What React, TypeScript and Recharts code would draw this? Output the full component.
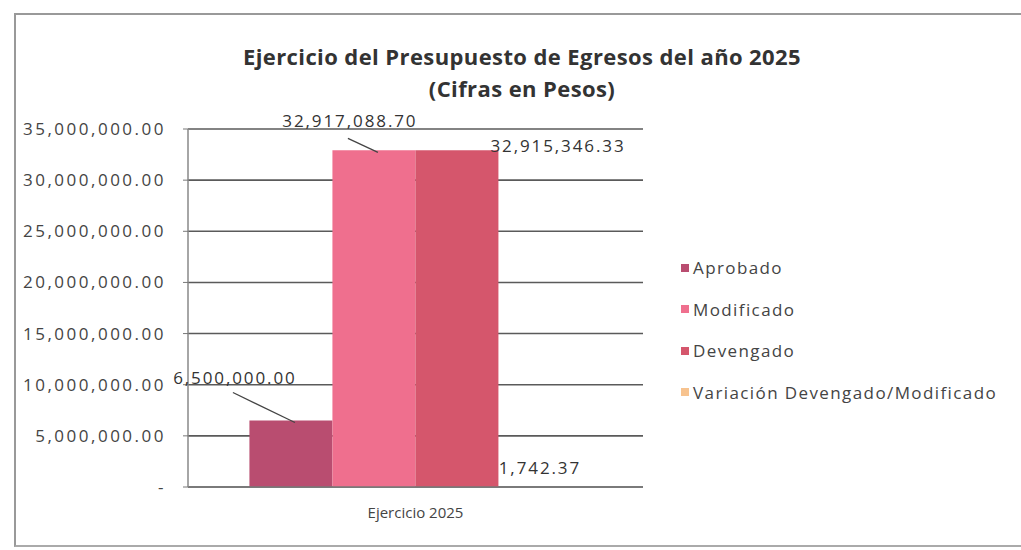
import React from "react";
import { BarChart, Bar, XAxis, YAxis, CartesianGrid, LabelList } from "recharts";

const categories = ["Ejercicio 2025"];
const aprobado = [6500000];
const modificado = [32917088.7];
const devengado = [32915346.33];
const variacion = [1742.37];
const yTicks = [0, 5000000, 10000000, 15000000, 20000000, 25000000, 30000000, 35000000];

const seriesNames = ["Aprobado", "Modificado", "Devengado", "Variación Devengado/Modificado"];
const colors = ["#b94d70", "#ef6f8e", "#d5566c", "#f7c38f"];

const data = categories.map((name, i) => ({
  name,
  Aprobado: aprobado[i],
  Modificado: modificado[i],
  Devengado: devengado[i],
  Variacion: variacion[i],
}));

const FONT = "'Open Sans', 'Liberation Sans', sans-serif";
const fmt = (v: number) => (v === 0 ? "-" : v.toLocaleString("en-US", { minimumFractionDigits: 2, maximumFractionDigits: 2 }));

const labelStyle = { fontSize: 17, fill: "#333", fontFamily: FONT, letterSpacing: 1.9 };

// labels with leader lines, placed relative to the bar the library drew
const leaderLabel = (dx: number, dy: number, ly: number) => (props: any) => {
  const { x, y, width, value } = props;
  const cx = x + width / 2;
  const tx = cx + dx;
  const ty = y + dy;
  return (
    <g>
      <line x1={tx - 2} y1={ty + ly} x2={cx + 4} y2={y + 2} stroke="#444" strokeWidth={1.3} />
      <text x={tx} y={ty} textAnchor="middle" style={labelStyle}>
        {fmt(value)}
      </text>
    </g>
  );
};

const rightLabel = (props: any) => {
  const { x, y, width, value } = props;
  return (
    <text x={x + width - 8} y={y + 2} textAnchor="start" style={labelStyle}>
      {fmt(value)}
    </text>
  );
};

const topLabel = (props: any) => {
  const { x, y, width, value } = props;
  return (
    <text x={x + width / 2} y={y - 13} textAnchor="middle" style={labelStyle}>
      {fmt(value)}
    </text>
  );
};

export default function App() {
  return (
    <div style={{ position: "absolute", left: 0, top: 0, width: 1021, height: 550, background: "#fff", overflow: "hidden" }}>
      <div
        style={{
          position: "absolute", left: 14, top: 13, width: 1020, height: 530,
          borderLeft: "2px solid #999", borderTop: "2px solid #999", borderBottom: "2px solid #aaa",
        }}
      />
      <div
        style={{
          position: "absolute", left: 0, width: 1044, top: 40, textAlign: "center",
          fontFamily: FONT, fontWeight: 700, fontSize: 22, color: "#333", lineHeight: "32px", letterSpacing: 0.4,
        }}
      >
        Ejercicio del Presupuesto de Egresos del año 2025
        <br />
        (Cifras en Pesos)
      </div>
      <div style={{ position: "absolute", left: 681, top: 247, fontFamily: FONT, fontSize: 17, color: "#444", letterSpacing: 1.4 }}>
        {seriesNames.map((n, i) => (
          <div key={n} style={{ display: "flex", alignItems: "center", height: 41.5 }}>
            <span style={{ width: 8, height: 8, background: colors[i], marginRight: 4, display: "inline-block" }} />
            {n}
          </div>
        ))}
      </div>
      <BarChart
        width={1021}
        height={550}
        data={data}
        margin={{ top: 129, right: 378, bottom: 33, left: 0 }}
        barCategoryGap="13.5%"
        barGap={0}
        style={{ position: "absolute", left: 0, top: 0 }}
      >
        <CartesianGrid vertical={false} stroke="#5a5a5a" strokeWidth={1.6} />
        <XAxis
          dataKey="name"
          height={30}
          axisLine={{ stroke: "#777", strokeWidth: 1.5 }}
          tickLine={false}
          tick={{ fill: "#444", fontSize: 15, fontFamily: FONT }}
          tickMargin={14}
        />
        <YAxis
          width={188}
          domain={[0, 35000000]}
          ticks={yTicks}
          tickFormatter={fmt}
          axisLine={{ stroke: "#888", strokeWidth: 1.5 }}
          tickLine={{ stroke: "#777" }}
          tickSize={5}
          tickMargin={17}
          tick={{ fill: "#444", fontSize: 17, fontFamily: FONT, letterSpacing: 2.5 }}
          interval={0}
        />
        <Bar dataKey="Aprobado" fill={colors[0]} isAnimationActive={false}>
          <LabelList dataKey="Aprobado" content={leaderLabel(-56, -37, 9)} />
        </Bar>
        <Bar dataKey="Modificado" fill={colors[1]} isAnimationActive={false}>
          <LabelList dataKey="Modificado" content={leaderLabel(-24, -23, 11)} />
        </Bar>
        <Bar dataKey="Devengado" fill={colors[2]} isAnimationActive={false}>
          <LabelList dataKey="Devengado" content={rightLabel} />
        </Bar>
        <Bar dataKey="Variacion" name={seriesNames[3]} fill={colors[3]} isAnimationActive={false}>
          <LabelList dataKey="Variacion" content={topLabel} />
        </Bar>
      </BarChart>
    </div>
  );
}
